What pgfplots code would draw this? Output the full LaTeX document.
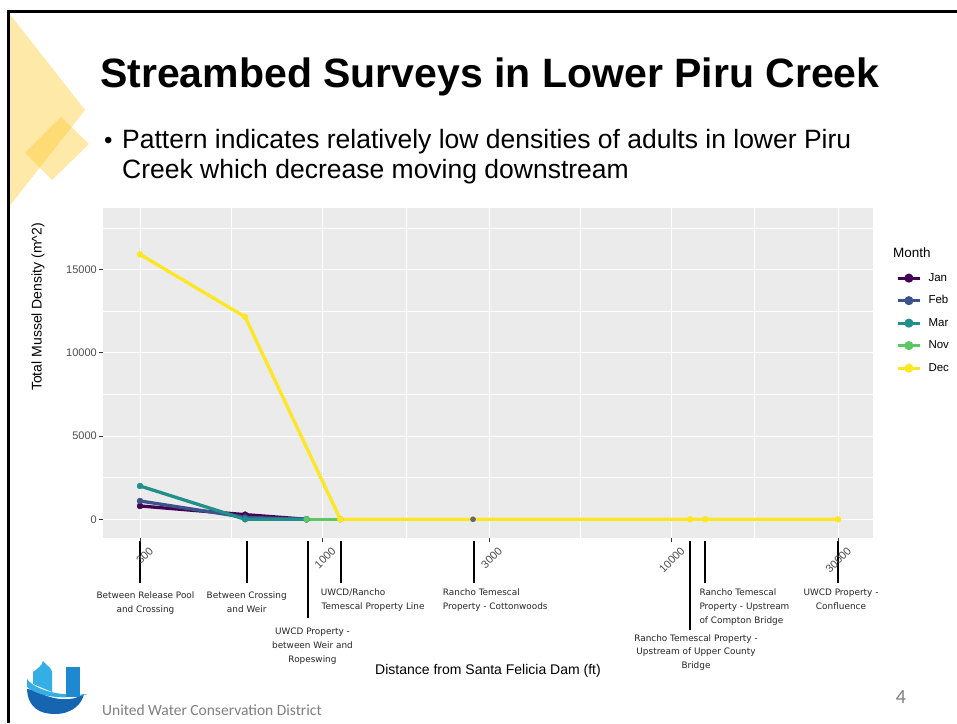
\documentclass[border=0pt]{standalone}
\usepackage{fontspec}
\setmainfont{Liberation Sans}
\newfontfamily\dejavu{DejaVu Sans}
\newfontfamily\carlito{Carlito}
\usepackage{pgfplots}
\pgfplotsset{compat=1.18}
\definecolor{vJan}{HTML}{440154}
\definecolor{vFeb}{HTML}{3B528B}
\definecolor{vMar}{HTML}{21908C}
\definecolor{vNov}{HTML}{5DC863}
\definecolor{vDec}{HTML}{FDE725}
\definecolor{panel}{HTML}{EBEBEB}
\definecolor{tickgrey}{HTML}{333333}
\definecolor{labgrey}{HTML}{4D4D4D}
\definecolor{deco}{HTML}{FFC828}
\definecolor{logoLight}{HTML}{35AEE6}
\definecolor{logoMid}{HTML}{1E88D0}
\definecolor{logoDark}{HTML}{1565B0}
\definecolor{footgrey}{HTML}{7F7F7F}
\newcommand{\fs}[1]{\fontsize{#1}{#1}\selectfont}
\newcommand{\an}[3]{\node[anchor=base,inner sep=0pt,text=black!85] at (#1,#2) {\dejavu\fs{8.9}#3};}
\newcommand{\anl}[3]{\node[anchor=base west,inner sep=0pt,text=black!85] at (#1,#2) {\dejavu\fs{8.9}#3};}
\begin{document}
\begin{tikzpicture}
\useasboundingbox (0,0) rectangle (957pt,723pt);
\fill[white] (0,0) rectangle (957pt,723pt);
\begin{scope}[x=1pt,y=-1pt,yshift=723pt]
  \fill[deco,opacity=0.4] (8,12) -- (85,110) -- (8,208) -- cycle;
  \fill[deco,opacity=0.4] (61,117) -- (89,144) -- (52,180) -- (25,153) -- cycle;
  \draw[black,line width=3pt,line join=miter] (8,723) -- (8,11.5) -- (957,11.5);
  \node[anchor=base west,inner sep=0pt] at (100,88) {\fs{41}\bfseries Streambed Surveys in Lower Piru Creek};
  \node[anchor=base west,inner sep=0pt] at (104,149) {\fs{24}•};
  \node[anchor=base west,inner sep=0pt] at (122,149) {\fs{26.5}Pattern indicates relatively low densities of adults in lower Piru};
  \node[anchor=base west,inner sep=0pt] at (122,179) {\fs{26.5}Creek which decrease moving downstream};
  % logo
  \fill[logoDark] (27,689) .. controls (28,708) and (40,714) .. (55,714) .. controls (72,714) and (82,704) .. (84,694) .. controls (72,702) and (55,700) .. (42,694) .. controls (36,691) and (30,689) .. cycle;
  \fill[logoLight] (27,679) .. controls (35,690) and (60,697) .. (88,694) .. controls (62,701) and (38,696) .. (27,687) -- cycle;
  \fill[logoLight] (33,672) .. controls (38,668) and (42,666) .. (43,661) .. controls (47,666) and (52,668) .. (52,672) -- (52,692) -- (33,684) -- cycle;
  \fill[logoMid] (66,667) rectangle (80,697);
  \node[anchor=base west,inner sep=0pt,text=footgrey] at (102,715) {\carlito\fs{15.5}United Water Conservation District};
  \node[anchor=base,inner sep=0pt,text=footgrey] at (901,703) {\carlito\fs{20}4};
  % axis titles
  \node[rotate=90,inner sep=0pt] at (38,307) {\fs{14}Total Mussel Density (m\textasciicircum 2)};
  \node[anchor=base,inner sep=0pt] at (488,674) {\fs{14}Distance from Santa Felicia Dam (ft)};
  \node[anchor=base west,inner sep=0pt] at (893,258) {\fs{13.5}Month};
  % annotation lines
  \foreach \xx/\yy in {140/583,247/583,308/618,341/583,474/583,690/630,705/583,838/583}
    \draw[black,line width=1.1pt] (\xx,541) -- (\xx,\yy);
  \an{145.5}{598}{Between Release Pool}
  \an{145.5}{612}{and Crossing}
  \an{246.7}{598}{Between Crossing}
  \an{246.7}{612}{and Weir}
  \an{312.5}{634}{UWCD Property -}
  \an{312.5}{648}{between Weir and}
  \an{312.5}{662}{Ropeswing}
  \anl{320.7}{595}{UWCD/Rancho}
  \anl{321.5}{609}{Temescal Property Line}
  \anl{442.7}{595}{Rancho Temescal}
  \anl{442.7}{609}{Property - Cottonwoods}
  \anl{699.3}{595}{Rancho Temescal}
  \anl{699.3}{609}{Property - Upstream}
  \anl{699.3}{623}{of Compton Bridge}
  \an{841}{595}{UWCD Property -}
  \an{841}{609}{Confluence}
  \an{696}{641}{Rancho Temescal Property -}
  \an{696}{654.5}{Upstream of Upper County}
  \an{696}{668}{Bridge}
\end{scope}
\begin{axis}[
  at={(103pt,185pt)}, anchor=south west,
  scale only axis, width=770pt, height=330pt,
  xmode=log, log basis x=10,
  xmin=235, xmax=37800, ymin=-1122, ymax=18684,
  scaled y ticks=false,
  axis background/.style={fill=panel},
  axis line style={draw=none},
  xtick={300,1000,3000,10000,30000}, xticklabels={300,1000,3000,10000,30000},
  minor xtick={548,1732,5477,17320},
  ytick={0,5000,10000,15000}, yticklabels={0,5000,10000,15000},
  minor ytick={2500,7500,12500,17500},
  grid=both,
  major grid style={white,line width=0.9pt},
  minor grid style={white,line width=0.45pt},
  tick pos=left, tick align=outside,
  major tick length=4pt, minor tick length=0pt,
  major tick style={color=tickgrey,line width=0.8pt},
  yticklabel style={font=\fs{11},text=labgrey,inner sep=0pt,xshift=-2pt},
  xticklabel style={font=\fs{11},text=labgrey,inner sep=0pt,rotate=45,anchor=east,xshift=3pt,yshift=-13pt},
  legend style={at={(rel axis cs:1.026,0.81)},anchor=north west,draw=none,fill=none,
    font=\fs{11.5},nodes={inner sep=0pt,text height=8.5pt,text depth=2pt},row sep=12pt,column sep=7pt},
  legend cell align=left,
  legend image code/.code={\draw[#1] (0pt,0pt) -- (22pt,0pt); \fill[#1] (11pt,0pt) circle (2.8pt);},
]
\addplot[vJan,line width=3.3pt] coordinates {(300,800) (600,280) (900,0)};
\addlegendentry{Jan}
\addplot[vFeb,line width=3.3pt] coordinates {(300,1100) (600,120) (900,0)};
\addlegendentry{Feb}
\addplot[vMar,line width=3.3pt] coordinates {(300,2000) (600,0) (900,0)};
\addlegendentry{Mar}
\addplot[vNov,line width=3.3pt] coordinates {(900,0) (1125,0)};
\addlegendentry{Nov}
\addplot[vDec,line width=3.3pt] coordinates {(300,15900) (600,12150) (1125,0) (11300,0) (12500,0) (30000,0)};
\addlegendentry{Dec}
\addplot[vJan,only marks,mark=*,mark size=3pt,forget plot] coordinates {(300,800) (600,280) (900,0)};
\addplot[black!60,only marks,mark=*,mark size=2.6pt,forget plot] coordinates {(2700,0)};
\addplot[vFeb,only marks,mark=*,mark size=3pt,forget plot] coordinates {(300,1100) (600,120) (900,0)};
\addplot[vMar,only marks,mark=*,mark size=3pt,forget plot] coordinates {(300,2000) (600,0) (900,0)};
\addplot[vNov,only marks,mark=*,mark size=3pt,forget plot] coordinates {(900,0) (1125,0)};
\addplot[vDec,only marks,mark=*,mark size=3pt,forget plot] coordinates {(300,15900) (600,12150) (1125,0) (11300,0) (12500,0) (30000,0)};
\end{axis}
\end{tikzpicture}
\end{document}
